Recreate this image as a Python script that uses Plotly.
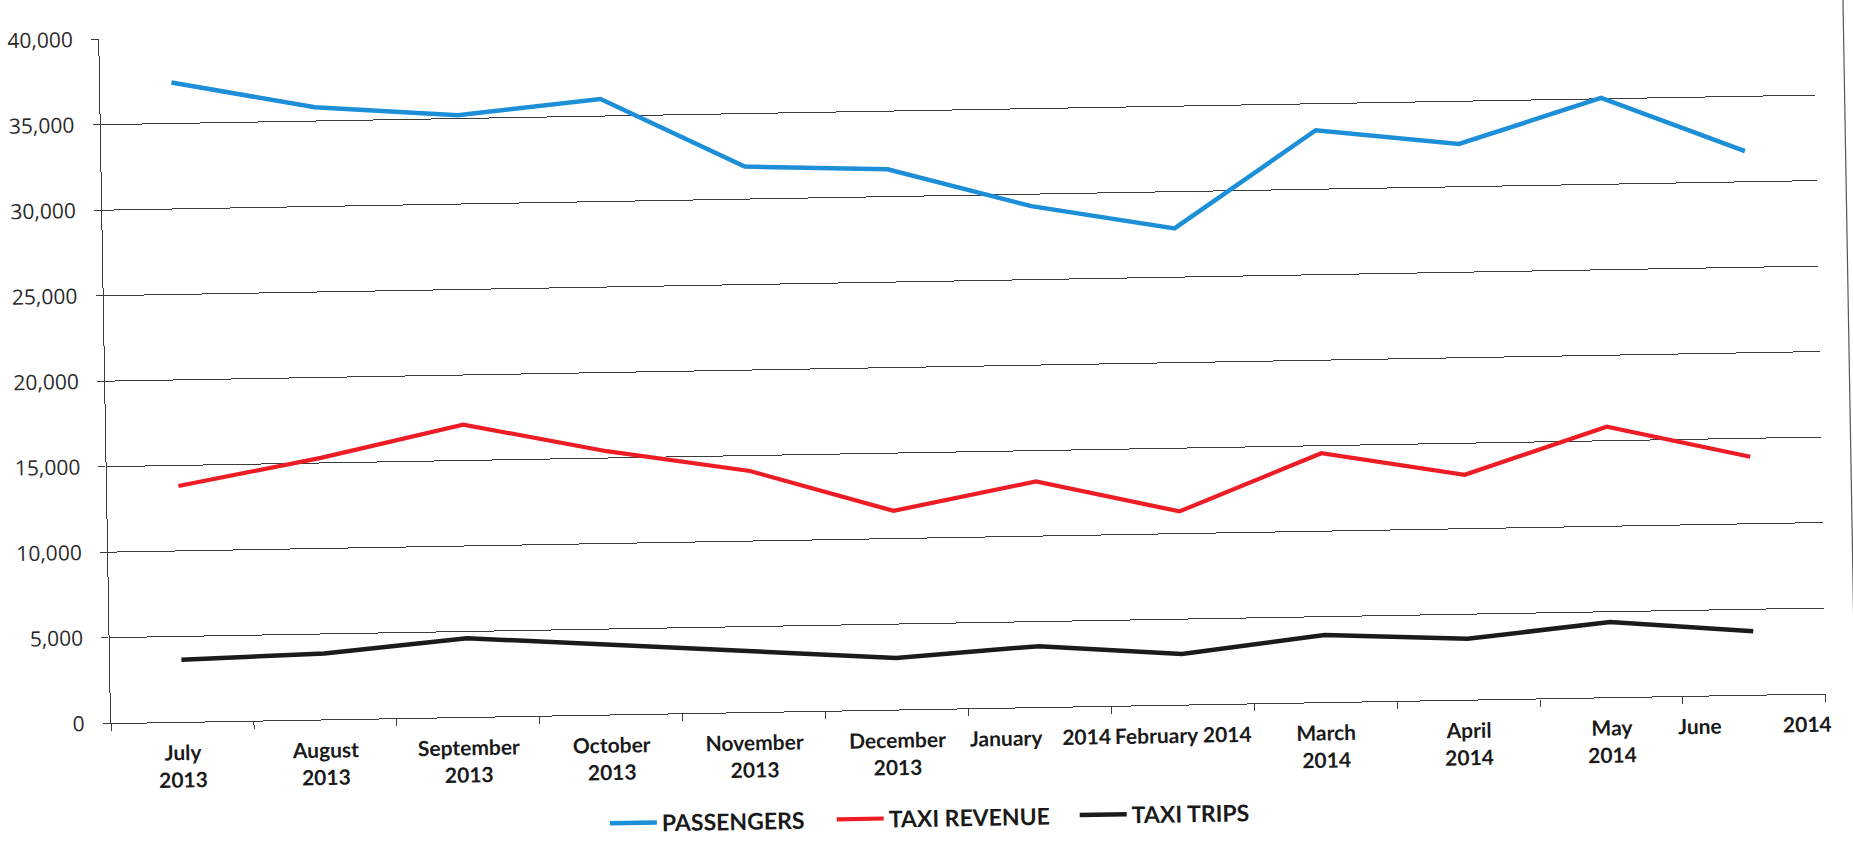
import plotly.graph_objects as go

# Monthly categories and their axis labels
months = [
    "July 2013", "August 2013", "September 2013", "October 2013",
    "November 2013", "December 2013", "January 2014", "February 2014",
    "March 2014", "April 2014", "May 2014", "June 2014",
]
NB = "\u00a0"
month_labels = [
    "July<br>2013", "August<br>2013", "September<br>2013", "October<br>2013",
    "November<br>2013", "December<br>2013", "January" + NB * 4 + "2014",
    "February 2014", "March<br>2014", "April<br>2014", "May<br>2014",
    "June" + NB * 12 + "2014",
]

# Series values
passengers = [37400, 35800, 35200, 36000, 31900, 31600,
              29300, 27850, 33450, 32500, 35050, 31800]
taxi_revenue = [13800, 15300, 17100, 15400, 14100, 11620,
                13200, 11300, 14560, 13150, 15820, 13920]
taxi_trips = [3640, 3850, 4610, 4080, 3610, 3020,
              3565, 2960, 3920, 3560, 4400, 3720]

y_ticks = [0, 5000, 10000, 15000, 20000, 25000, 30000, 35000, 40000]

# name, values, colour, width, legend id, legend x (paper)
series = [
    ("PASSENGERS", passengers, "#1C8FD8", 4.5, "legend", 0.2869),
    ("TAXI REVENUE", taxi_revenue, "#EE1D25", 4.2, "legend2", 0.4192),
    ("TAXI TRIPS", taxi_trips, "#1B1B1B", 4.5, "legend3", 0.5609),
]

fig = go.Figure()
for name, values, color, width, leg, _ in series:
    fig.add_trace(go.Scatter(
        x=months, y=values, name=name, mode="lines", legend=leg,
        line=dict(color=color, width=width),
    ))

grid_color = "#3c3c3c"

legend_font = dict(family="Lato", size=23, color="#1a1a1a", weight="bold")
legends = {}
for _, _, _, _, leg, lx in series:
    legends[leg] = dict(
        orientation="h", x=lx, y=-0.159, xanchor="left", yanchor="middle",
        font=legend_font, itemwidth=47, bgcolor="rgba(0,0,0,0)",
    )

fig.update_layout(
    width=1853, height=849,
    margin=dict(l=106, r=32, t=25, b=140, autoexpand=False),
    paper_bgcolor="white", plot_bgcolor="white",
    showlegend=True,
    xaxis=dict(
        type="category", automargin=False, tickangle=0,
        range=[-0.5, len(months) - 0.5],
        tickmode="array", tickvals=months, ticktext=month_labels,
        tickson="boundaries", ticks="outside", ticklen=7, tickwidth=1,
        tickcolor=grid_color, showline=True, linecolor=grid_color, linewidth=1.2,
        showgrid=False, ticklabelstandoff=12,
        tickfont=dict(family="Lato", size=21, color="#1a1a1a", weight="bold"),
    ),
    yaxis=dict(
        range=[0, 40000], tickmode="array", tickvals=y_ticks, automargin=False,
        tickformat=",", ticks="outside", ticklen=7, tickwidth=1,
        tickcolor=grid_color, showline=True, linecolor=grid_color, linewidth=1.2,
        showgrid=True, gridcolor=grid_color, gridwidth=1.2, zeroline=False,
        ticklabelstandoff=14,
        tickfont=dict(family="Open Sans", size=21, color="#2a2a2a"),
    ),
    shapes=[
        # chart-area outline
        dict(type="rect", xref="paper", yref="paper",
             x0=-0.064, x1=1.017, y0=-0.213, y1=1.06,
             line=dict(color="#555555", width=1.2), fillcolor="rgba(0,0,0,0)",
             layer="below"),
    ],
    **legends,
)

page_script = """
var gd = document.getElementById('{plot_id}');
document.documentElement.style.overflow = 'hidden';
document.body.style.margin = '0';
document.body.style.overflow = 'hidden';
gd.style.transformOrigin = '926.5px 424.5px';
gd.style.transform = 'rotate(-0.99deg)';
"""

fig.write_html("out.html", post_script=page_script)
